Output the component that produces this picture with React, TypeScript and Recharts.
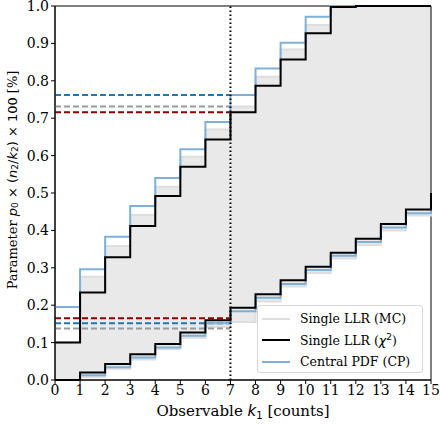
import { ComposedChart, Area, Line, XAxis, YAxis, ReferenceLine, ReferenceArea, Legend } from 'recharts';

// observable k1 and the interval bounds
const counts = [0, 1, 2, 3, 4, 5, 6, 7, 8, 9, 10, 11, 12, 13, 14, 15];
const mcLower = [0, 0.008, 0.03, 0.055, 0.083, 0.113, 0.142, 0.155, 0.21, 0.25, 0.286, 0.325, 0.361, 0.4, 0.44, 0.48];
const mcUpper = [0.1, 0.276, 0.358, 0.441, 0.517, 0.597, 0.67, 0.731, 0.811, 0.884, 0.949, 1, 1, 1, 1, 1];
const chiLower = [0, 0.02, 0.043, 0.069, 0.096, 0.127, 0.16, 0.193, 0.229, 0.267, 0.303, 0.34, 0.378, 0.417, 0.456, 0.5];
const chiUpper = [0.1, 0.234, 0.328, 0.412, 0.492, 0.57, 0.643, 0.716, 0.787, 0.857, 0.927, 0.997, 1, 1, 1, 1];
const cpLower = [0, 0.013, 0.034, 0.06, 0.087, 0.118, 0.152, 0.184, 0.22, 0.257, 0.294, 0.332, 0.369, 0.408, 0.446, 0.49];
const cpUpper = [0.195, 0.296, 0.383, 0.465, 0.54, 0.617, 0.69, 0.762, 0.833, 0.902, 0.971, 1, 1, 1, 1, 1];

// dashed markers at the observed k1
const observedK = 7;
const markValues = [0.762, 0.731, 0.716, 0.165, 0.152, 0.138];
const markColors = ['#1f77b4', '#999999', '#8b0000', '#8b0000', '#1f77b4', '#999999'];

const xTicks = counts;
const yTicks = [0, 0.1, 0.2, 0.3, 0.4, 0.5, 0.6, 0.7, 0.8, 0.9, 1.0];

const FONT = '"DejaVu Serif", serif';
const MATH = '"DejaVu Sans", sans-serif';
const MC_FILL = '#e9e9e9';
const MC_LINE = '#dedede';
const CP_COLOR = '#7fb1d7';

const data = counts.map((k, i) => ({
  k,
  mc: [mcLower[i], mcUpper[i]],
  mcLo: mcLower[i],
  mcHi: mcUpper[i],
  chiLo: chiLower[i],
  chiHi: chiUpper[i],
  cpLo: cpLower[i],
  cpHi: cpUpper[i],
}));

function YLabel({ viewBox }: any) {
  const cx = 12;
  const cy = viewBox.y + viewBox.height / 2 - 13;
  return (
    <text x={cx} y={cy} transform={`rotate(-90 ${cx} ${cy})`} textAnchor="middle" dominantBaseline="central"
      fontFamily={FONT} fontSize={13} fill="#000">
      <tspan>Parameter </tspan>
      <tspan fontFamily={MATH} fontStyle="italic">p</tspan>
      <tspan fontFamily={MATH} fontSize={9} dy={3}>0</tspan>
      <tspan fontFamily={MATH} dy={-3}> × (</tspan>
      <tspan fontFamily={MATH} fontStyle="italic">n</tspan>
      <tspan fontFamily={MATH} fontSize={9} dy={3}>2</tspan>
      <tspan fontFamily={MATH} dy={-3}>/</tspan>
      <tspan fontFamily={MATH} fontStyle="italic">k</tspan>
      <tspan fontFamily={MATH} fontSize={9} dy={3}>2</tspan>
      <tspan fontFamily={MATH} dy={-3}>) × 100</tspan>
      <tspan> [%]</tspan>
    </text>
  );
}

function XLabel({ viewBox }: any) {
  const cx = viewBox.x + viewBox.width / 2;
  return (
    <text x={cx} y={416} textAnchor="middle" fontFamily={FONT} fontSize={15} fill="#000">
      <tspan>Observable </tspan>
      <tspan fontFamily={MATH} fontStyle="italic">k</tspan>
      <tspan fontFamily={MATH} fontSize={10} dy={3}>1</tspan>
      <tspan dy={-3}> [counts]</tspan>
    </text>
  );
}

const legendItems = [
  { color: MC_LINE, label: <>Single LLR (MC)</> },
  { color: '#000', label: <>Single LLR (<i style={{ fontFamily: MATH }}>χ</i><sup style={{ fontSize: 9, fontFamily: MATH }}>2</sup>)</> },
  { color: CP_COLOR, label: <>Central PDF (CP)</> },
];

function renderLegend() {
  return (
    <div style={{
      background: 'rgba(255,255,255,0.85)', border: '1px solid #d6d6d6', borderRadius: 3,
      padding: '2px 4px', fontFamily: FONT, fontSize: 12.5, boxSizing: 'border-box', width: 166, height: 68,
      whiteSpace: 'nowrap',
    }}>
      {legendItems.map((it, i) => (
        <div key={i} style={{ display: 'flex', alignItems: 'center', height: 21.5 }}>
          <span style={{ display: 'inline-block', width: 28, height: 2, background: it.color, marginRight: 10 }} />
          <span>{it.label}</span>
        </div>
      ))}
    </div>
  );
}

export default function App() {
  return (
    <div style={{ position: 'absolute', left: 0, top: 0, background: '#fff' }}>
      <ComposedChart width={440} height={424} data={data} margin={{ top: 6, right: 9, left: 0, bottom: 0 }}>
        <XAxis dataKey="k" type="number" domain={[0, 15]} ticks={xTicks} interval={0} height={44}
          tickSize={4} tickMargin={1} stroke="#000" tick={{ fill: '#000', fontSize: 14, fontFamily: FONT }}
          label={<XLabel />} />
        <YAxis type="number" domain={[0, 1]} ticks={yTicks} interval={0} width={55}
          tickSize={4} tickMargin={2} stroke="#000" tickFormatter={(v: number) => v.toFixed(1)}
          tick={{ fill: '#000', fontSize: 14, fontFamily: FONT }} label={<YLabel />} />
        <Area dataKey="mc" type="stepAfter" fill={MC_FILL} fillOpacity={1} stroke="none" isAnimationActive={false} />
        <Line dataKey="mcLo" type="stepAfter" stroke={MC_LINE} strokeWidth={2} dot={false} isAnimationActive={false} />
        <Line dataKey="mcHi" type="stepAfter" stroke={MC_LINE} strokeWidth={2} dot={false} isAnimationActive={false} />
        {markValues.map((v, i) => (
          <ReferenceLine key={i} segment={[{ x: 0, y: v }, { x: observedK, y: v }]} stroke={markColors[i]}
            strokeWidth={2} strokeDasharray="6 3" />
        ))}
        <Line dataKey="cpLo" type="stepAfter" stroke={CP_COLOR} strokeWidth={2} dot={false} isAnimationActive={false} />
        <Line dataKey="cpHi" type="stepAfter" stroke={CP_COLOR} strokeWidth={2} dot={false} isAnimationActive={false} />
        <Line dataKey="chiLo" type="stepAfter" stroke="#000" strokeWidth={2} dot={false} isAnimationActive={false} />
        <Line dataKey="chiHi" type="stepAfter" stroke="#000" strokeWidth={2} dot={false} isAnimationActive={false} />
        <ReferenceLine x={observedK} stroke="#000" strokeWidth={2} strokeDasharray="1.5 2.5" />
        <ReferenceArea x1={0} x2={15} y1={0} y2={1} fill="none" stroke="#000" strokeWidth={1} ifOverflow="visible" />
        <Legend layout="horizontal" verticalAlign="middle" align="center" content={renderLegend}
          wrapperStyle={{ left: 257, top: 305, width: 166 }} />
      </ComposedChart>
    </div>
  );
}
